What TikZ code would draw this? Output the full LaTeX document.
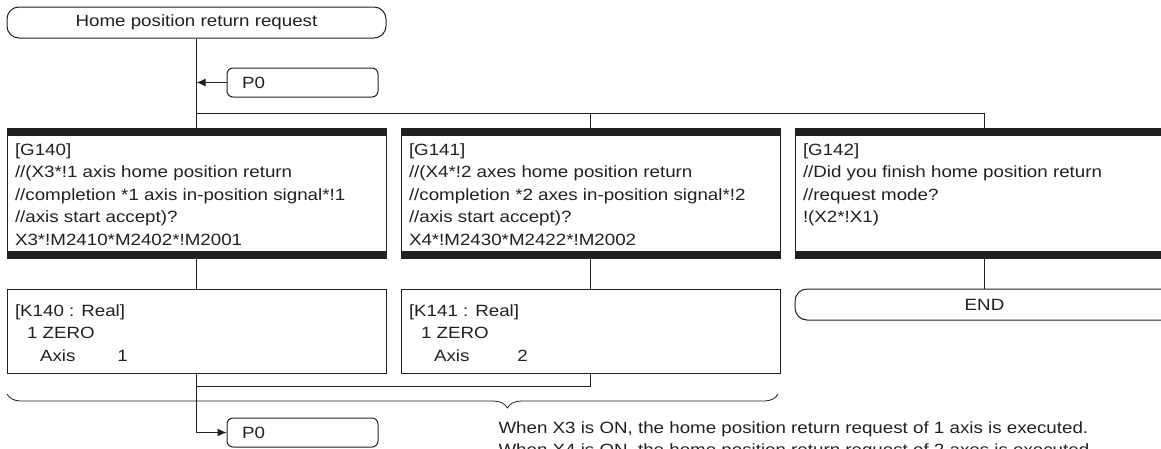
\documentclass[tikz,border=0pt]{standalone}
\usepackage{fontspec}
\setmainfont{Liberation Sans}[FakeStretch=1.15]
\usepackage{xcolor}
\definecolor{Ink}{HTML}{231F20}
\usetikzlibrary{arrows.meta,positioning,decorations.pathreplacing}
\newcommand{\cell}[3]{\parbox[c][#1][t]{363pt}{\vspace*{#2}#3}}

\begin{document}
\begin{tikzpicture}[
  x=1pt, y=-1pt,
  font=\fontsize{16.3}{22.5}\selectfont,
  line width=1pt, Ink, text=Ink,
  terminal/.style={draw, rounded corners=12pt, minimum width=379pt,
                   minimum height=31pt, inner sep=0pt},
  jump/.style={draw, rounded corners=6pt, text width=121pt, align=left,
               inner xsep=15pt, inner ysep=0pt, minimum height=29pt},
  trans/.style={draw, inner xsep=8pt, inner ysep=0pt, path picture={
      \fill (path picture bounding box.north west) rectangle
            ([yshift=-8pt]path picture bounding box.north east);
      \fill (path picture bounding box.south west) rectangle
            ([yshift=7pt]path picture bounding box.south east);}},
  stepbox/.style={draw, inner xsep=8pt, inner ysep=0pt},
  arr/.style={-{Latex[length=9pt,width=8pt]}}
]
  \useasboundingbox (0,0) rectangle (1161,448);

  \node[terminal] (start) at (196.5,22.5) {Home position return request};
  \node[jump] (jumpin) at (302.5,82.5) {P0};

  \node[trans] (g140) at (196.5,193) {\cell{130pt}{15.3pt}{[G140]\\
    //(X3*!1 axis home position return\\
    //completion *1 axis in-position signal*!1\\
    //axis start accept)?\\
    X3*!M2410*M2402*!M2001}};
  \node[trans, right=14pt of g140] (g141) {\cell{130pt}{15.3pt}{[G141]\\
    //(X4*!2 axes home position return\\
    //completion *2 axes in-position signal*!2\\
    //axis start accept)?\\
    X4*!M2430*M2422*!M2002}};
  \node[trans, right=14pt of g141] (g142) {\cell{130pt}{15.3pt}{[G142]\\
    //Did you finish home position return\\
    //request mode?\\
    !(X2*!X1)}};

  \node[stepbox, below=30pt of g140] (k140) {\cell{84pt}{15.3pt}{[K140 : Real]\\
    \hspace*{12pt}1 ZERO\\
    \hspace*{25pt}Axis\hspace{42pt}1}};
  \node[stepbox, below=30pt of g141] (k141) {\cell{84pt}{15.3pt}{[K141 : Real]\\
    \hspace*{12pt}1 ZERO\\
    \hspace*{25pt}Axis\hspace{48pt}2}};
  \node[terminal, below=30pt of g142] (finish) {END};

  \node[jump] (jumpout) at (302.5,432.5) {P0};
  \node[anchor=base west, align=left, inner sep=0pt] (note) at (498,455.5)
    {When X3 is ON, the home position return request of 1 axis is executed.\\
     When X4 is ON, the home position return request of 2 axes is executed.};

  \coordinate (fork) at (196.5,113);
  \coordinate (merge) at (196.5,386);

  \draw (start.south) -- (g140.north);
  \draw[arr] (jumpin.west) -- (jumpin.west -| start.south);
  \draw (fork) -| (g142.north);
  \draw (g141.north) -- (g141.north |- fork);
  \draw (g140.south) -- (k140.north);
  \draw (g141.south) -- (k141.north);
  \draw (g142.south) -- (finish.north);
  \draw (k141.south) |- (merge);
  \draw[arr] (k140.south) |- (jumpout.west);
  \draw[line width=0.8pt, decorate,
        decoration={brace, amplitude=14pt, aspect=0.351}]
    (778,394) -- (7,394);
\end{tikzpicture}
\end{document}
